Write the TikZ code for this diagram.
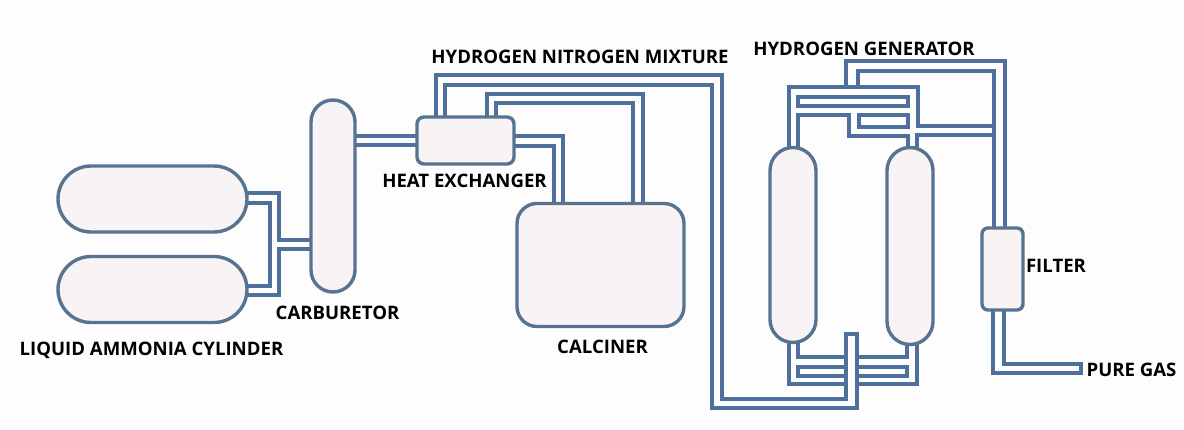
\documentclass[tikz,border=0pt]{standalone}
\usepackage{fontspec}
\usetikzlibrary{backgrounds}
\setmainfont{Open Sans}
\definecolor{pipec}{HTML}{4F6F9C}
\definecolor{edgec}{HTML}{56748F}
\definecolor{bodyc}{HTML}{F8F4F5}
\definecolor{bgc}{HTML}{FDFDFE}
\tikzset{
  pipe/.style={draw=pipec,line width=3.1pt,line join=miter},
  vessel/.style={draw=edgec,fill=bodyc,line width=3.4pt,inner sep=0pt,outer sep=0pt},
  lab/.style={font=\fontsize{18.6pt}{20pt}\selectfont\bfseries,text=black,inner sep=0pt}
}
\begin{document}
\begin{tikzpicture}[x=1pt,y=-1pt]
\useasboundingbox (0,0) rectangle (1184,430);
\node[vessel,rounded corners=33pt,minimum width=189pt,minimum height=66pt] (cyla) at (152.5,199) {};
\node[vessel,rounded corners=33pt,minimum width=189pt,minimum height=66pt] (cylb) at (152.5,289.5) {};
\node[vessel,rounded corners=22pt,minimum width=44pt,minimum height=192pt] (carb) at (333,196) {};
\node[vessel,rounded corners=7pt,minimum width=97pt,minimum height=47pt] (hex) at (465.5,140.5) {};
\node[vessel,rounded corners=20pt,minimum width=167pt,minimum height=123pt] (calc) at (600.5,265) {};
\node[vessel,rounded corners=23pt,minimum width=46pt,minimum height=195pt] (gena) at (793,245) {};
\node[vessel,rounded corners=23pt,minimum width=46pt,minimum height=197pt] (genb) at (910,246) {};
\node[vessel,rounded corners=6pt,minimum width=41pt,minimum height=82pt] (filt) at (1002.5,269) {};
\begin{scope}[on background layer]
\fill[bgc] (0,0) rectangle (1184,430);
% cylinders to carburetor
\draw[pipe] (cyla.east |- 0,193) -- (279,193) -- (279,240) -- (carb.west |- 0,240);
\draw[pipe] (cyla.east |- 0,203) -- (270,203) -- (270,286) -- (cylb.east |- 0,286);
\draw[pipe] (carb.west |- 0,249) -- (279,249) -- (279,295) -- (cylb.east |- 0,295);
% carburetor to heat exchanger
\draw[pipe] (carb.east |- 0,136) -- (hex.west |- 0,136);
\draw[pipe] (carb.east |- 0,145) -- (hex.west |- 0,145);
% heat exchanger to calciner
\draw[pipe] (hex.east |- 0,136) -- (563,136) -- (563,0 |- calc.north);
\draw[pipe] (hex.east |- 0,146) -- (554,146) -- (554,0 |- calc.north);
\draw[pipe] (487,0 |- hex.north) -- (487,94) -- (643,94) -- (643,0 |- calc.north);
\draw[pipe] (496,0 |- hex.north) -- (496,103) -- (633,103) -- (633,0 |- calc.north);
% heat exchanger to hydrogen generator (mixture)
\draw[pipe] (436,0 |- hex.north) -- (436,75) -- (722,75) -- (722,399) -- (846,399) -- (846,334) -- (857,334) -- (857,408) -- (712,408) -- (712,85) -- (445,85) -- (445,0 |- hex.north);
% generator top
\draw[pipe] (789,0 |- gena.north) -- (789,87) -- (846,87) -- (846,61) -- (1005,61) -- (1005,0 |- filt.north);
\draw[pipe] (994,0 |- filt.north) -- (994,71) -- (858,71) -- (858,87) -- (918,87) -- (918,126) -- (994,126);
\draw[pipe] (846,87) -- (858,87);
\draw[pipe] (798,97) rectangle (908,106);
\draw[pipe] (859,115) rectangle (908,127);
\draw[pipe] (798,0 |- gena.north) -- (798,115) -- (849,115) -- (849,136) -- (908,136) -- (908,0 |- genb.north);
\draw[pipe] (917,0 |- genb.north) -- (917,135) -- (994,135);
% generator bottom
\draw[pipe] (789,0 |- gena.south) -- (789,384) -- (846,384);
\draw[pipe] (798,0 |- gena.south) -- (798,357) -- (846,357);
\draw[pipe] (846,367) -- (798,367) -- (798,376) -- (846,376);
\draw[pipe] (857,357) -- (907,357) -- (907,0 |- genb.south);
\draw[pipe] (857,367) -- (907,367) -- (907,376) -- (857,376);
\draw[pipe] (857,384) -- (917,384) -- (917,0 |- genb.south);
% filter outlet
\draw[pipe] (1004,0 |- filt.south) -- (1004,364) -- (1081,364) -- (1081,373) -- (993,373) -- (993,0 |- filt.south);
\end{scope}
% labels
\node[lab] (t1) at (580,56.5) {HYDROGEN NITROGEN MIXTURE};
\node[lab] (t2) at (864,49) {HYDROGEN GENERATOR};
\node[lab] (t3) at (464.5,181) {HEAT EXCHANGER};
\node[lab] (t4) at (337.5,313) {CARBURETOR};
\node[lab] (t5) at (151.5,350) {LIQUID AMMONIA CYLINDER};
\node[lab] (t6) at (602.5,347) {CALCINER};
\node[lab] (t7) at (1056,265.5) {FILTER};
\node[lab] (t8) at (1131.5,370) {PURE GAS};
\end{tikzpicture}
\end{document}
